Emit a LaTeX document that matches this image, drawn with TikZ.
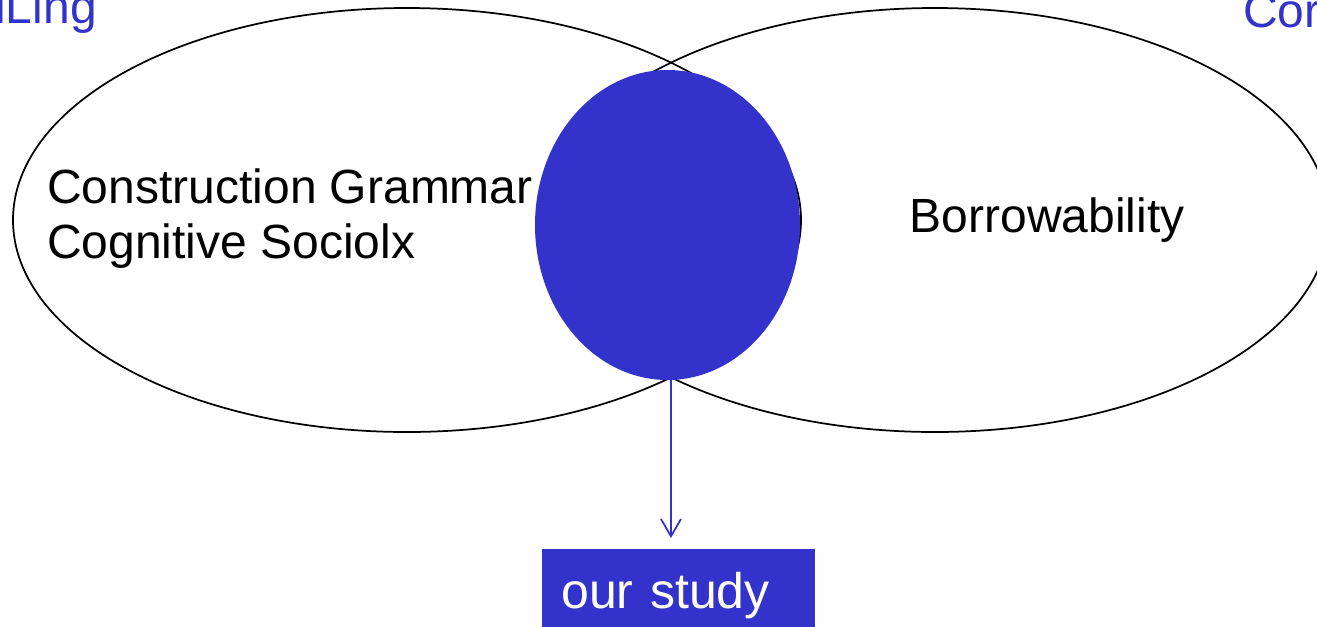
\documentclass[tikz,border=0pt]{standalone}
\usepackage{fontspec}
\setmainfont{Liberation Sans}
\usepackage{xcolor}
\usetikzlibrary{shapes.geometric,arrows.meta}
\definecolor{studyblue}{RGB}{51,51,204}
\tikzset{
  setshape/.style={ellipse, draw=black, line width=1.3pt, inner sep=0pt, minimum width=591pt, minimum height=318pt},
  coreshape/.style={ellipse, fill=studyblue, draw=none, inner sep=0pt, minimum width=198.75pt, minimum height=232.5pt},
  bigtext/.style={inner sep=0pt, font=\fontsize{36}{41.25}\selectfont},
  studybox/.style={bigtext, font=\fontsize{37.5}{43}\selectfont, fill=studyblue, text=white, anchor=north west, text width=176.25pt, align=left, inner xsep=14.25pt, inner ysep=0pt, minimum height=68.7pt},
  studyarrow/.style={draw=studyblue, line width=1.3pt, -{Straight Barb[length=13pt,width=15pt]}, shorten >=8.25pt}
}
\begin{document}
\begin{tikzpicture}[x=0.75pt,y=0.75pt,yscale=-1,xscale=1]
\useasboundingbox (0,0) rectangle (1317,626);

%Shape: Ellipse
\node[setshape] (cxg) at (407,220) {};
%Shape: Ellipse
\node[setshape] (borrow) at (935,220) {};
%Shape: Ellipse
\node[coreshape] (core) at (667.5,225) {};

% Text Node
\node[bigtext, anchor=base west] (gramtext) at (47,203) {Construction Grammar};
% Text Node
\node[bigtext, anchor=base west] (sociotext) at (47,258) {Cognitive Sociolx};
% Text Node
\node[bigtext, anchor=base west] (borrowtext) at (909.5,232) {Borrowability};
% Text Node
\node[bigtext, text=studyblue, anchor=base east] (lingtext) at (97,23) {iLing};
% Text Node
\node[bigtext, text=studyblue, anchor=base west] (cortext) at (1243,27) {Cor};
% Text Node
\node[studybox] (study) at (542,549) {our study};

%Straight Lines
\draw[studyarrow] ([xshift=2.6pt]core.south) -- ([xshift=2.6pt]core.south |- study.north);

\end{tikzpicture}
\end{document}
